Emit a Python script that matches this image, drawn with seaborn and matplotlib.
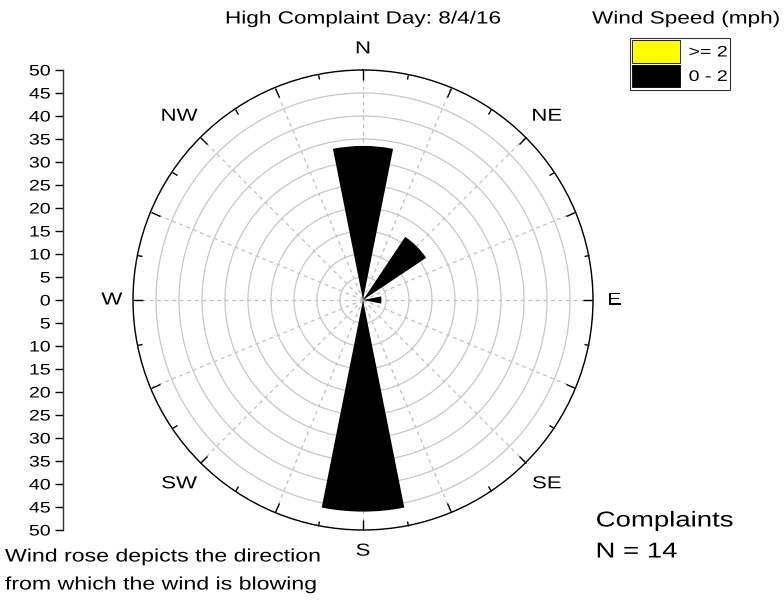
import numpy as np
import matplotlib
matplotlib.use("Agg")
import matplotlib.pyplot as plt
import seaborn as sns
from matplotlib.patches import Patch
from matplotlib.patheffects import AbstractPathEffect
from matplotlib.transforms import Affine2D
from matplotlib.text import Text

# 16 compass sectors, clockwise from north
directions = ["N", "NNE", "NE", "ENE", "E", "ESE", "SE", "SSE",
              "S", "SSW", "SW", "WSW", "W", "WNW", "NW", "NNW"]
# percent of complaints per sector and wind speed bin
speed_0_2 = [33.5, 0, 16.5, 0, 4.0, 0, 0, 0, 46.0, 0, 0, 0, 0, 0, 0, 0]
speed_ge_2 = [0] * 16
speed_bins = ["0 - 2", ">= 2"]
bin_colors = ["#000000", "#ffff00"]
compass_labels = ["N", "NE", "E", "SE", "S", "SW", "W", "NW"]
r_ticks = [5, 10, 15, 20, 25, 30, 35, 40, 45, 50]
left_ticks = list(range(-50, 51, 5))


class HStretch(AbstractPathEffect):
    """Widen text glyphs horizontally (the source image has wide lettering)."""

    def __init__(self, sx, ha):
        super().__init__()
        self.sx = sx
        self.ha = ha

    def draw_path(self, renderer, gc, tpath, affine, rgbFace=None):
        ext = tpath.get_extents(affine)
        if self.ha == "left":
            x0 = ext.x0
        elif self.ha == "right":
            x0 = ext.x1
        else:
            x0 = 0.5 * (ext.x0 + ext.x1)
        tr = affine + Affine2D().translate(-x0, 0).scale(self.sx, 1).translate(x0, 0)
        renderer.draw_path(gc, tpath, tr, rgbFace)


sns.set_style("white")
plt.rcParams["font.family"] = ["Liberation Sans", "DejaVu Sans"]
plt.rcParams["text.color"] = "black"
plt.rcParams["xtick.color"] = "black"
plt.rcParams["ytick.color"] = "black"

W, H = 784, 605
fig = plt.figure(figsize=(W / 100, H / 100), dpi=100)

cx, cy, rad = 363, 300, 230
ax = fig.add_axes([(cx - rad) / W, (H - cy - rad) / H, 2 * rad / W, 2 * rad / H],
                  projection="polar")
ax.set_theta_zero_location("N")
ax.set_theta_direction(-1)

theta = np.deg2rad(np.arange(16) * 22.5)
width = np.deg2rad(22.5)
bottom = np.zeros(16)
for vals, col in [(speed_0_2, bin_colors[0]), (speed_ge_2, bin_colors[1])]:
    ax.bar(theta, vals, width=width, bottom=bottom, color=col,
           edgecolor="none", linewidth=0, zorder=3)
    bottom = bottom + np.array(vals)

ax.set_ylim(0, 50)
ax.set_yticks(r_ticks)
ax.set_yticklabels([])
ax.set_xticks(theta)
ax.set_xticklabels([])
ax.set_xticks(np.deg2rad(np.arange(32) * 11.25), minor=True)
ax.yaxis.grid(True, color="#c8c8c8", linewidth=0.9, linestyle="-")
ax.xaxis.grid(True, color="#c0c0c0", linewidth=0.9, linestyle=(0, (3, 3)))
ax.tick_params(axis="x", which="major", direction="in", length=7, width=1,
               color="black", bottom=False, top=True)
ax.tick_params(axis="x", which="minor", direction="in", length=4, width=1,
               color="black", bottom=False, top=True)
ax.spines["polar"].set_color("black")
ax.spines["polar"].set_linewidth(1.0)
ax.set_axisbelow(True)

for i, lab in enumerate(compass_labels):
    ang = np.deg2rad(i * 45)
    r = 54.6 if i % 2 == 0 else 56.5
    ax.text(ang, r, lab, ha="center", va="center", fontsize=12.5,
            clip_on=False)

# side scale showing the radial values
ax2 = fig.add_axes([63 / W, (H - cy - rad) / H, 0.0001, 2 * rad / H])
ax2.set_ylim(-50, 50)
ax2.set_yticks(left_ticks)
ax2.set_yticklabels([str(abs(v)) for v in left_ticks], fontsize=11)
ax2.set_xticks([])
for s in ["top", "right", "bottom"]:
    ax2.spines[s].set_visible(False)
ax2.spines["left"].set_color("#333333")
ax2.spines["left"].set_linewidth(1.0)
ax2.tick_params(axis="y", direction="out", length=6, width=1, pad=3,
                left=True)

fig.text(cx / W, 1 - 19 / H, "High Complaint Day: 8/4/16", ha="center",
         va="center", fontsize=12.7)
fig.text(686 / W, 1 - 19 / H, "Wind Speed (mph)", ha="center", va="center",
         fontsize=12.7)

handles = [Patch(facecolor=bin_colors[1], edgecolor="black", linewidth=0.6),
           Patch(facecolor=bin_colors[0], edgecolor="black", linewidth=0.6)]
leg = fig.legend(handles, [speed_bins[1] + "  ", speed_bins[0] + "  "],
                 loc="upper left", bbox_to_anchor=(630 / W, 1 - 38 / H),
                 fontsize=11, frameon=True, fancybox=False, edgecolor="black",
                 handlelength=3.1, handleheight=1.9, handletextpad=0.6,
                 borderpad=0.15, labelspacing=0.12, borderaxespad=0)
leg.get_frame().set_linewidth(0.8)

fig.text(596 / W, 1 - 521 / H, "Complaints", ha="left", va="center",
         fontsize=15.5)
fig.text(596 / W, 1 - 552 / H, "N = 14", ha="left", va="center",
         fontsize=15.5)
fig.text(5 / W, 1 - 557 / H, "Wind rose depicts the direction", ha="left",
         va="center", fontsize=13)
fig.text(5 / W, 1 - 585 / H, "from which the wind is blowing", ha="left",
         va="center", fontsize=13)

for t in fig.findobj(Text):
    if t.get_text().strip():
        t.set_path_effects([HStretch(1.28, t.get_ha())])

fig.savefig("out.png", dpi=100)
